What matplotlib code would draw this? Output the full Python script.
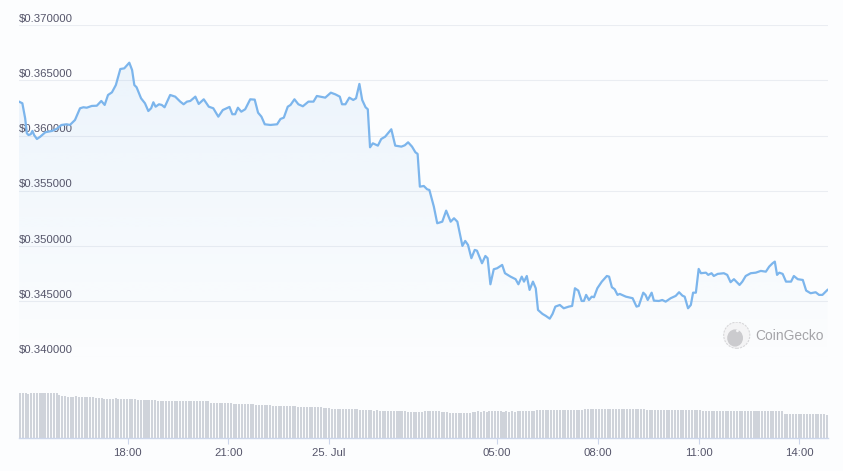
import matplotlib
matplotlib.use('Agg')

import matplotlib.pyplot as plt
from matplotlib.patches import Circle, Ellipse
import numpy as np

plt.rcParams['font.family'] = ['Liberation Sans', 'DejaVu Sans']

# price over 24h, x = minutes after 24 Jul 14:46
price_min = [0, 6, 11, 14, 17, 21, 24, 27, 32, 38, 47, 59, 67, 76, 85, 91, 100, 109,
             115, 121, 130, 139, 147, 153, 159, 166, 173, 181, 188, 197, 202, 206, 210,
             218, 225, 231, 236, 240, 244, 250, 255, 260, 270, 279, 288, 294, 300, 306,
             315, 321, 330, 339, 347, 356, 364, 371, 376, 381, 386, 391, 397, 404, 413,
             421, 427, 433, 439, 449, 461, 467, 473, 480, 485, 492, 499, 507, 517, 526,
             532, 541, 547, 557, 565, 573, 577, 583, 590, 597, 602, 608, 613, 619, 623,
             627, 632, 641, 647, 654, 660, 665, 672, 683, 689, 695, 702, 708, 712, 716,
             723, 729, 733, 741, 747, 756, 763, 771, 777, 783, 792, 797, 802, 808, 814,
             818, 827, 833, 837, 842, 848, 854, 863, 868, 878, 887, 892, 898, 902, 907,
             912, 918, 923, 927, 935, 941, 948, 953, 958, 966, 973, 982, 988, 993, 999,
             1005, 1009, 1013, 1018, 1023, 1027, 1033, 1041, 1050, 1054, 1059, 1064, 1069,
             1073, 1084, 1096, 1103, 1107, 1115, 1119, 1123, 1130, 1134, 1143, 1149, 1155,
             1164, 1173, 1179, 1185, 1189, 1195, 1200, 1204, 1209, 1214, 1218, 1227, 1231,
             1237, 1241, 1248, 1259, 1265, 1271, 1277, 1287, 1292, 1298, 1307, 1316, 1325,
             1334, 1340, 1346, 1350, 1354, 1358, 1364, 1370, 1379, 1384, 1391, 1400, 1406,
             1414, 1423, 1429, 1435, 1444]
price_usd = [0.36307, 0.36292, 0.36156, 0.36021, 0.36005, 0.36012, 0.36042, 0.36005, 0.35969,
             0.35990, 0.36030, 0.36042, 0.36060, 0.36096, 0.36102, 0.36096, 0.36141, 0.36247,
             0.36256, 0.36252, 0.36268, 0.36270, 0.36313, 0.36277, 0.36367, 0.36391, 0.36457,
             0.36602, 0.36608, 0.36659, 0.36593, 0.36457, 0.36437, 0.36337, 0.36292, 0.36222,
             0.36247, 0.36301, 0.36261, 0.36283, 0.36277, 0.36256, 0.36367, 0.36352, 0.36307,
             0.36283, 0.36307, 0.36313, 0.36352, 0.36286, 0.36328, 0.36261, 0.36247, 0.36171,
             0.36231, 0.36247, 0.36259, 0.36193, 0.36193, 0.36252, 0.36216, 0.36238, 0.36328,
             0.36325, 0.36207, 0.36171, 0.36102, 0.36096, 0.36102, 0.36150, 0.36162, 0.36261,
             0.36277, 0.36328, 0.36283, 0.36265, 0.36307, 0.36307, 0.36358, 0.36349, 0.36343,
             0.36388, 0.36373, 0.36352, 0.36283, 0.36283, 0.36343, 0.36322, 0.36337, 0.36467,
             0.36322, 0.36256, 0.36238, 0.35894, 0.35930, 0.35909, 0.35969, 0.35990, 0.36026,
             0.36057, 0.35909, 0.35900, 0.35912, 0.35939, 0.35900, 0.35849, 0.35834, 0.35538,
             0.35544, 0.35514, 0.35508, 0.35357, 0.35207, 0.35221, 0.35321, 0.35221, 0.35252,
             0.35221, 0.35002, 0.35047, 0.35011, 0.34891, 0.34966, 0.34959, 0.34845, 0.34911,
             0.34891, 0.34655, 0.34791, 0.34800, 0.34830, 0.34755, 0.34724, 0.34701, 0.34655,
             0.34724, 0.34679, 0.34730, 0.34604, 0.34679, 0.34619, 0.34423, 0.34387, 0.34369,
             0.34344, 0.34387, 0.34453, 0.34468, 0.34438, 0.34453, 0.34459, 0.34619, 0.34598,
             0.34504, 0.34504, 0.34559, 0.34513, 0.34543, 0.34538, 0.34619, 0.34679, 0.34730,
             0.34724, 0.34628, 0.34610, 0.34559, 0.34568, 0.34543, 0.34529, 0.34453, 0.34459,
             0.34579, 0.34559, 0.34513, 0.34579, 0.34507, 0.34504, 0.34513, 0.34498, 0.34529,
             0.34550, 0.34583, 0.34552, 0.34543, 0.34438, 0.34468, 0.34579, 0.34579, 0.34794,
             0.34755, 0.34760, 0.34740, 0.34755, 0.34730, 0.34749, 0.34755, 0.34740, 0.34674,
             0.34701, 0.34649, 0.34679, 0.34730, 0.34755, 0.34760, 0.34776, 0.34769, 0.34815,
             0.34845, 0.34860, 0.34740, 0.34760, 0.34749, 0.34679, 0.34679, 0.34730, 0.34701,
             0.34694, 0.34598, 0.34574, 0.34583, 0.34559, 0.34559, 0.34604]

# volume bars, one per 5 min (relative units)
volume = [
    45.0, 45.0, 45.0, 43.7, 45.0, 45.0, 45.0, 45.0, 45.0, 45.0, 45.0, 45.0,
    45.0, 45.0, 42.7, 41.7, 41.7, 40.7, 40.7, 40.7, 41.7, 40.7, 40.7, 40.7,
    40.7, 40.7, 40.7, 39.7, 39.7, 39.7, 38.7, 38.7, 38.7, 38.7, 39.7, 38.7,
    38.7, 38.7, 38.7, 38.7, 38.7, 38.7, 37.7, 37.7, 37.7, 37.7, 37.7, 37.7,
    37.7, 36.7, 36.7, 36.7, 36.7, 36.7, 36.7, 36.7, 36.7, 36.7, 36.7, 36.7,
    36.7, 36.7, 36.7, 36.7, 36.7, 36.7, 36.7, 36.7, 34.7, 34.7, 34.7, 34.7,
    34.7, 34.7, 34.7, 34.7, 33.7, 33.7, 33.7, 33.7, 33.7, 33.7, 33.7, 33.7,
    32.7, 32.7, 32.7, 32.7, 32.7, 32.7, 31.7, 31.7, 31.7, 31.7, 31.7, 31.7,
    31.7, 31.7, 31.7, 30.7, 30.7, 30.7, 30.7, 30.7, 30.7, 30.7, 30.7, 30.7,
    29.7, 29.7, 29.7, 28.7, 28.7, 28.7, 28.7, 28.7, 28.7, 28.7, 28.7, 28.7,
    28.7, 27.7, 27.7, 27.7, 27.7, 27.7, 26.7, 27.7, 26.7, 26.7, 26.7, 26.7,
    26.7, 26.7, 26.7, 26.7, 26.7, 26.7, 25.7, 25.7, 25.7, 25.7, 25.7, 25.7,
    26.7, 26.7, 26.7, 26.7, 26.7, 26.7, 25.7, 25.7, 25.7, 24.7, 24.7, 24.7,
    24.7, 24.7, 24.7, 24.7, 24.7, 25.7, 25.7, 26.7, 25.7, 26.7, 25.7, 26.7,
    26.7, 26.7, 26.7, 26.7, 25.7, 26.7, 25.7, 26.7, 25.7, 26.7, 26.7, 26.7,
    26.7, 26.7, 26.7, 26.7, 27.7, 27.7, 27.7, 27.7, 27.7, 27.7, 27.7, 27.7,
    27.7, 27.7, 27.7, 27.7, 27.7, 27.7, 27.7, 27.7, 27.7, 28.7, 28.7, 28.7,
    28.7, 28.7, 28.7, 28.7, 28.7, 28.7, 28.7, 28.7, 28.7, 28.7, 28.7, 28.7,
    28.7, 28.7, 28.7, 28.7, 28.7, 28.7, 28.7, 27.7, 27.7, 27.7, 27.7, 27.7,
    27.7, 27.7, 27.7, 27.7, 27.7, 27.7, 27.7, 27.7, 27.7, 27.7, 27.7, 27.7,
    27.7, 27.7, 27.7, 26.7, 26.7, 26.7, 26.7, 26.7, 26.7, 26.7, 26.7, 26.7,
    26.7, 26.7, 26.7, 26.7, 26.7, 26.7, 26.7, 26.7, 26.7, 26.7, 26.7, 26.7,
    26.7, 26.7, 26.7, 26.7, 26.7, 26.7, 26.7, 26.7, 23.7, 23.7, 23.7, 23.7,
    23.7, 23.7, 23.7, 23.7, 23.7, 23.7, 23.7, 23.7, 23.7, 23.7, 23.7, 22.7,
]

y_ticks = [0.340, 0.345, 0.350, 0.355, 0.360, 0.365, 0.370]
x_tick_labels = ['18:00', '21:00', '25. Jul', '05:00', '08:00', '11:00', '14:00']
x_tick_clock = [18, 21, 24, 29, 32, 35, 38]  # hours after 24 Jul 00:00
start_clock = 14 + 46 / 60
span_min = 1445

bg = '#fcfdfe'
line_col = '#7cb5ec'
label_col = '#55556a'
axis_col = '#ccd6eb'

W, H = 843, 471
fig = plt.figure(figsize=(W / 100, H / 100), dpi=100, facecolor=bg)


def px_axes(left, top, right, bottom):
    a = fig.add_axes([left / W, 1 - bottom / H, (right - left) / W, (bottom - top) / H])
    a.set_facecolor('none')
    return a


# price panel
ax = px_axes(19, 25, 828, 356.7)
for v in y_ticks:
    ax.axhline(v, color='#eaedf2', lw=0.8, zorder=0.5)
    ax.annotate('$%.6f' % v, xy=(0, v), xycoords=('axes fraction', 'data'),
                xytext=(0, 1.0), textcoords='offset points', ha='left', va='bottom',
                fontsize=8.2, color=label_col, zorder=3)

poly = ax.fill_between(price_min, price_usd, y_ticks[0], facecolor='none', edgecolor='none')
grad = np.zeros((256, 1, 4))
grad[..., 0], grad[..., 1], grad[..., 2] = 124 / 255, 181 / 255, 236 / 255
grad[:, 0, 3] = np.linspace(0.14, 0.0, 256)
img = ax.imshow(grad, extent=[0, span_min, y_ticks[0], y_ticks[-1]], aspect='auto',
                origin='upper', zorder=1, interpolation='bilinear')
img.set_clip_path(poly.get_paths()[0], ax.transData)

ax.plot(price_min, price_usd, color=line_col, lw=1.6, zorder=4, solid_joinstyle='round')
ax.set_xlim(0, span_min)
ax.set_ylim(y_ticks[0], y_ticks[-1])
ax.axis('off')

# volume panel
axv = px_axes(19, 392.7, 828, 437.7)
vol_min = np.linspace(0, 1441, len(volume))
axv.bar(vol_min, volume, width=3.6, align='edge', color='#cfd3da', linewidth=0)
axv.set_xlim(0, span_min)
axv.set_ylim(0, max(volume))
for s in ('top', 'left', 'right'):
    axv.spines[s].set_visible(False)
axv.spines['bottom'].set_color(axis_col)
axv.spines['bottom'].set_linewidth(1.0)
axv.set_yticks([])
tick_min = [(c - start_clock) * 60 for c in x_tick_clock]
axv.set_xticks(tick_min, x_tick_labels)
axv.tick_params(axis='x', length=4.5, width=0.8, color=axis_col, labelsize=8.2,
                labelcolor=label_col, pad=2.6)

# CoinGecko watermark
axl = px_axes(723, 321.5, 750.5, 349)
axl.set_xlim(-1, 1)
axl.set_ylim(-1, 1)
axl.axis('off')
axl.add_patch(Circle((0, 0), 0.95, facecolor='#f4f4f5', edgecolor='#d8d8da',
                     lw=0.8, ls=(0, (2, 1))))
axl.add_patch(Ellipse((-0.12, -0.2), 1.15, 1.25, facecolor='#cbcbce', edgecolor='none'))
axl.add_patch(Circle((0.05, 0.32), 0.1, facecolor='#f4f4f5', edgecolor='none'))
fig.text(755 / W, 1 - 335.5 / H, 'CoinGecko', ha='left', va='center', fontsize=9.9,
         color='#a4a4a8')

plt.savefig('out.png', dpi=100, facecolor=bg)
